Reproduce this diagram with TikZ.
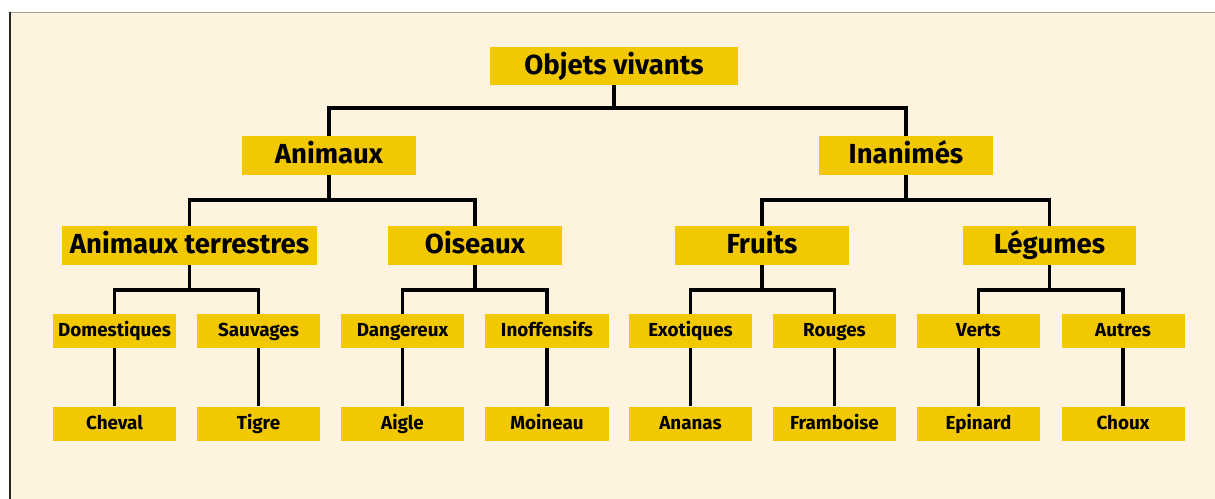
\documentclass[tikz,border=0pt]{standalone}
\usepackage{fontspec}
\setmainfont{Fira Sans}
\usetikzlibrary{calc}
\definecolor{cream}{RGB}{254,243,222}
\definecolor{boxyellow}{RGB}{242,200,0}
\definecolor{rimgrey}{RGB}{170,160,146}

\begin{document}
\begin{tikzpicture}[x=0.025cm,y=-0.025cm,
  big/.style={fill=boxyellow,inner sep=0pt,minimum width=4.325cm,minimum height=0.975cm,
    font=\fontsize{19.6}{20}\selectfont\bfseries,text height=13.6pt,text depth=1.8pt},
  small/.style={fill=boxyellow,inner sep=0pt,minimum width=3.075cm,minimum height=0.85cm,
    font=\fontsize{13.4}{14}\selectfont\bfseries,text height=9.2pt,text depth=0.7pt},
  link/.style={draw=black,line width=2.6pt}]
% The frame
\useasboundingbox (0,0) rectangle (1215,499);
\fill[cream] (10,13) rectangle (1215,499);
\draw[rimgrey,line width=1.2pt] (10,12.5) -- (1215,12.5);
\draw[black!85,line width=1.5pt] (10,12) -- (10,499);

% The boxes
\node[big,minimum width=6.2cm,minimum height=0.95cm] (root) at (614,66) {Objets vivants};
\node[big] (anim) at (329,155.5) {Animaux};
\node[big] (inan) at (906,155.5) {Inanimés};
\node[big,minimum width=6.375cm] (terr) at (189.5,245.5) {Animaux terrestres};
\node[big] (ois) at (475,245.5) {Oiseaux};
\node[big] (fruit) at (762,245.5) {Fruits};
\node[big] (leg) at (1049.5,245.5) {Légumes};

\node[small] (dom) at (114.5,331) {Domestiques};
\node[small] (sauv) at (258.5,331) {Sauvages};
\node[small] (dang) at (402.5,331) {Dangereux};
\node[small] (inof) at (547,331) {Inoffensifs};
\node[small] (exo) at (690.5,331) {Exotiques};
\node[small] (roug) at (834.5,331) {Rouges};
\node[small] (vert) at (978.5,331) {Verts};
\node[small] (autr) at (1123,331) {Autres};

\node[small] (chev) at (114.5,423.5) {Cheval};
\node[small] (tigr) at (258.5,423.5) {Tigre};
\node[small] (aigl) at (402.5,423.5) {Aigle};
\node[small] (moin) at (547,423.5) {Moineau};
\node[small] (anan) at (690.5,423.5) {Ananas};
\node[small] (fram) at (834.5,423.5) {Framboise};
\node[small] (epin) at (978.5,423.5) {Epinard};
\node[small] (chou) at (1123,423.5) {Choux};

% The forks
\coordinate (f0) at ($(root.south)+(0,23)$);
\coordinate (fa) at ($(anim.south)+(0,25)$);
\coordinate (fi) at ($(inan.south)+(0,25)$);
\coordinate (ft) at ($(terr.south)+(0,25)$);
\coordinate (fo) at ($(ois.south)+(0,25)$);
\coordinate (ff) at ($(fruit.south)+(0,25)$);
\coordinate (fl) at ($(leg.south)+(0,25)$);

\draw[link] (root.south) -- (f0);
\draw[link] (anim.north) |- (f0) -| (inan.north);
\draw[link] (anim.south) -- (fa);
\draw[link] (terr.north) |- (fa) -| (ois.north);
\draw[link] (inan.south) -- (fi);
\draw[link] (fruit.north) |- (fi) -| (leg.north);

\draw[link] (terr.south) -- (ft);
\draw[link] (dom.north) |- (ft) -| (sauv.north);
\draw[link] (ois.south) -- (fo);
\draw[link] (dang.north) |- (fo) -| (inof.north);
\draw[link] (fruit.south) -- (ff);
\draw[link] (exo.north) |- (ff) -| (roug.north);
\draw[link] (leg.south) -- (fl);
\draw[link] (vert.north) |- (fl) -| (autr.north);

% The leaves
\draw[link] (dom) -- (chev);
\draw[link] (sauv) -- (tigr);
\draw[link] (dang) -- (aigl);
\draw[link] (inof) -- (moin);
\draw[link] (exo) -- (anan);
\draw[link] (roug) -- (fram);
\draw[link] (vert) -- (epin);
\draw[link] (autr) -- (chou);
\end{tikzpicture}
\end{document}
